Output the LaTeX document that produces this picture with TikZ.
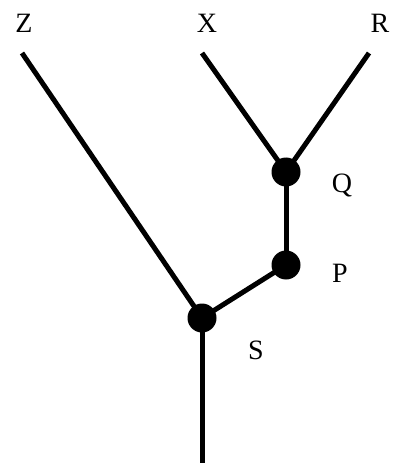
\documentclass[tikz,border=0pt]{standalone}
\usepackage{fontspec}
\setmainfont{Liberation Serif}
\begin{document}
\begin{tikzpicture}[x=1pt, y=-1pt,
  junction/.style={circle, fill=black, inner sep=0pt, minimum size=29pt},
  branch/.style={line width=5pt},
  taxon/.style={font=\fontsize{28}{32}\selectfont, inner sep=0pt}]
\useasboundingbox (0,0) rectangle (398,465);
\node[junction] (q) at (286,172) {};
\node[junction] (p) at (286,265) {};
\node[junction] (s) at (202,318) {};
\coordinate (z) at (22,53);
\coordinate (x) at (202,53);
\coordinate (r) at (369,53);
\coordinate (root) at (202,463);
\node[taxon] (lz) at (24,23) {Z};
\node[taxon] (lx) at (207,23) {X};
\node[taxon] (lr) at (380,23) {R};
\node[taxon] (lq) at (342,185) {Q};
\node[taxon] (lp) at (340,273) {P};
\node[taxon] (ls) at (256,350) {S};
\draw[branch] (z) -- (s.center);
\draw[branch] (x) -- (q.center);
\draw[branch] (r) -- (q.center);
\draw[branch] (q.center) -- (p.center);
\draw[branch] (p.center) -- (s.center);
\draw[branch] (s.center) -- (root);
\end{tikzpicture}
\end{document}
